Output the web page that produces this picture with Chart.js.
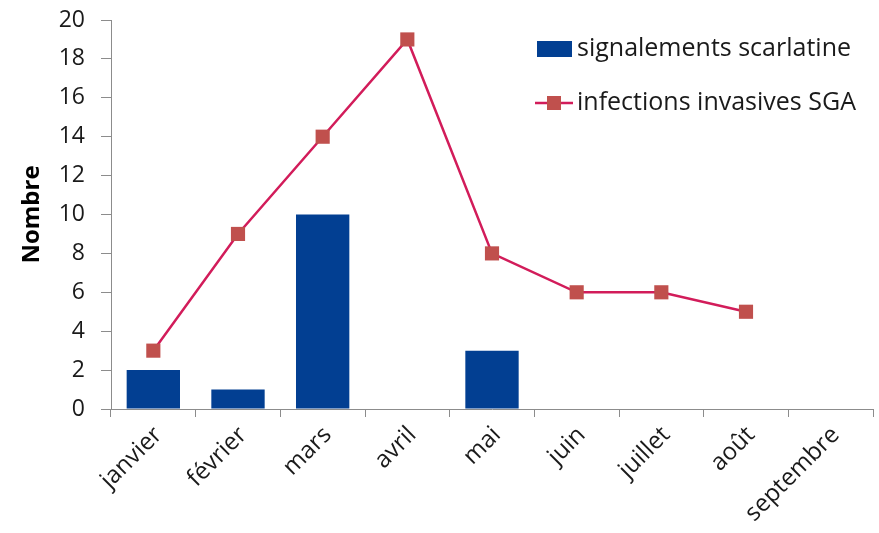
<!DOCTYPE html>
<html>
<head>
<meta charset="utf-8">
<script src="https://cdn.jsdelivr.net/npm/chart.js@4.4.1/dist/chart.umd.min.js"></script>
<style>
  html, body { margin: 0; padding: 0; background: #fff; }
  #wrap { position: relative; width: 879px; height: 533px; }
</style>
</head>
<body>
<div id="wrap"><canvas id="chart" width="879" height="533"></canvas></div>
<script>
// months on the x axis
const mois = ["janvier", "février", "mars", "avril", "mai", "juin", "juillet", "août", "septembre"];
// monthly counts
const signalementsScarlatine = [2, 1, 10, 0, 3, 0, 0, 0, 0];
const infectionsInvasivesSGA = [3, 9, 14, 19, 8, 6, 6, 5, null];
// y axis
const yTicks = [0, 2, 4, 6, 8, 10, 12, 14, 16, 18, 20];

const FONT = "'Open Sans', sans-serif";
const TEXT = "#1a1a1a";
const BLUE = "#023f92";
const LINE_RED = "#d21c5a";
const MARKER_RED = "#c0504d";

// legend drawn in the top right corner of the plot
const cornerLegend = {
    id: "cornerLegend",
    afterDraw(chart) {
        const ctx = chart.ctx;
        ctx.save();
        ctx.font = "25px " + FONT;
        ctx.textBaseline = "middle";
        ctx.textAlign = "left";

        // bar series
        let y = 49;
        ctx.fillStyle = BLUE;
        ctx.fillRect(537, y - 8, 35, 16);
        ctx.fillStyle = TEXT;
        ctx.fillText(chart.data.datasets[1].label, 577, y);

        // line series
        y = 103;
        ctx.strokeStyle = LINE_RED;
        ctx.lineWidth = 2.5;
        ctx.beginPath();
        ctx.moveTo(535, y);
        ctx.lineTo(573, y);
        ctx.stroke();
        ctx.fillStyle = MARKER_RED;
        ctx.fillRect(547, y - 7, 14, 14);
        ctx.fillStyle = TEXT;
        ctx.fillText(chart.data.datasets[0].label, 577, y);
        ctx.restore();
    }
};

new Chart(document.getElementById("chart"), {
    type: "bar",
    data: {
        labels: mois,
        datasets: [
            {
                type: "line",
                label: "infections invasives SGA",
                data: infectionsInvasivesSGA,
                borderColor: LINE_RED,
                borderWidth: 2.5,
                pointStyle: "rect",
                pointRadius: 10,
                pointBackgroundColor: MARKER_RED,
                pointBorderColor: MARKER_RED,
                pointBorderWidth: 0,
                tension: 0,
                order: 0
            },
            {
                label: "signalements scarlatine",
                data: signalementsScarlatine,
                backgroundColor: BLUE,
                categoryPercentage: 0.63,
                barPercentage: 1,
                order: 1
            }
        ]
    },
    options: {
        responsive: false,
        animation: false,
        devicePixelRatio: 1,
        layout: { autoPadding: false, padding: { top: 20, right: 6, left: 0, bottom: 0 } },
        plugins: {
            legend: { display: false },
            tooltip: { enabled: false }
        },
        scales: {
            x: {
                offset: true,
                grid: {
                    offset: true,
                    drawOnChartArea: false,
                    color: "#8c8c8c",
                    tickLength: 8
                },
                border: { color: "#8c8c8c", width: 1 },
                ticks: {
                    font: { family: FONT, size: 24 },
                    color: TEXT,
                    minRotation: 45,
                    maxRotation: 45,
                    autoSkip: false,
                    labelOffset: 5,
                    padding: 4
                },
                afterFit(scale) {
                    scale.height = 124;
                    scale.paddingLeft = 0;
                    scale.paddingRight = 0;
                }
            },
            y: {
                min: 0,
                max: 20,
                afterBuildTicks(scale) {
                    scale.ticks = yTicks.map(v => ({ value: v }));
                },
                grid: {
                    drawOnChartArea: false,
                    color: "#8c8c8c",
                    tickLength: 10
                },
                border: { color: "#8c8c8c", width: 1 },
                ticks: {
                    font: { family: FONT, size: 23 },
                    color: TEXT,
                    padding: 16
                },
                title: {
                    display: true,
                    text: "Nombre",
                    font: { family: FONT, size: 24, weight: "bold" },
                    color: "#000",
                    padding: { top: 18, bottom: 0 }
                },
                afterFit(scale) {
                    scale.width = 111;
                    scale.paddingTop = 0;
                    scale.paddingBottom = 0;
                }
            }
        }
    },
    plugins: [cornerLegend]
});
</script>
</body>
</html>
